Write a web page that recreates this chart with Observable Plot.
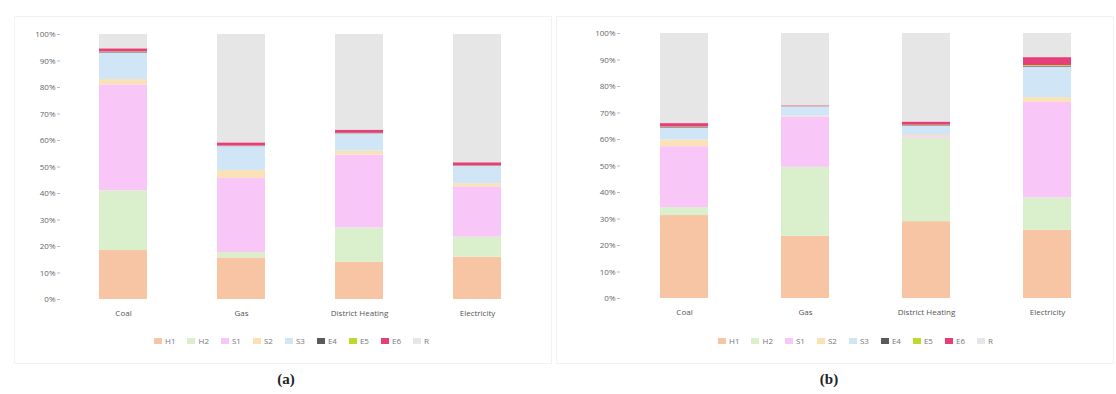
<!DOCTYPE html>
<html>
<head>
<meta charset="utf-8">
<script src="https://cdn.jsdelivr.net/npm/d3@7"></script>
<script src="https://cdn.jsdelivr.net/npm/@observablehq/plot@0.6"></script>
<style>
  html, body { margin: 0; padding: 0; background: #fff; }
  body { width: 1116px; height: 394px; position: relative; overflow: hidden; font-family: "Open Sans", sans-serif; }
  .panel { position: absolute; top: 16px; height: 348px; border: 1px solid #f2f2f2; box-sizing: border-box; }
  .chart { position: absolute; top: 20px; }
  .legend { position: absolute; top: 335px; display: flex; gap: 12px; font: 8px "Open Sans", sans-serif; color: #777; align-items: center; white-space: nowrap; }
  .legend span.item { display: inline-flex; align-items: center; gap: 3px; }
  .legend i { display: inline-block; width: 8px; height: 6px; }
  .cap { position: absolute; top: 371px; font: bold 15px "Liberation Serif", serif; color: #222; transform: translateX(-50%); }
</style>
</head>
<body>
<div class="panel" style="left:14px;width:538px"></div>
<div class="panel" style="left:556px;width:558px"></div>
<div id="chartA" class="chart" style="left:15px"></div>
<div id="chartB" class="chart" style="left:560px"></div>
<div id="legendA" class="legend" style="left:154px"></div>
<div id="legendB" class="legend" style="left:718px"></div>
<div class="cap" style="left:286px">(a)</div>
<div class="cap" style="left:829px">(b)</div>
<script>
// Energy carriers on the x axis
const categories = ["Coal", "Gas", "District Heating", "Electricity"];
// Stack components, bottom to top
const series = ["H1", "H2", "S1", "S2", "S3", "E4", "E5", "E6", "R"];
const colors = ["#f8c5a4", "#daf0cc", "#f9c6f8", "#fae1b8", "#d0e6f6", "#5a5a5a", "#bcd92c", "#e63e79", "#e6e6e6"];
const yTicks = [0, 10, 20, 30, 40, 50, 60, 70, 80, 90, 100];

// Panel (a): share (%) of each component per carrier
const aH1 = [18.5, 15.7, 14.0, 16.0];
const aH2 = [22.5, 2.0, 13.0, 7.5];
const aS1 = [40.0, 28.0, 27.5, 19.0];
const aS2 = [2.0, 3.0, 1.5, 1.2];
const aS3 = [10.0, 9.0, 6.5, 6.5];
const aE4 = [0.2, 0.1, 0.1, 0.1];
const aE5 = [0.2, 0.1, 0.1, 0.1];
const aE6 = [1.2, 1.2, 1.2, 1.2];
const aR  = [5.4, 40.9, 36.1, 48.4];

// Panel (b): share (%) of each component per carrier
const bH1 = [31.3, 23.5, 29.0, 25.7];
const bH2 = [3.0, 26.0, 31.5, 12.3];
const bS1 = [23.0, 19.0, 0.5, 36.0];
const bS2 = [2.5, 0.3, 0.5, 1.8];
const bS3 = [4.5, 3.5, 3.5, 11.5];
const bE4 = [0.2, 0.05, 0.2, 0.3];
const bE5 = [0.2, 0.05, 0.2, 0.3];
const bE6 = [1.3, 0.3, 1.2, 3.0];
const bR  = [34.0, 27.3, 33.4, 9.1];

function table(cols) {
  const rows = [];
  series.forEach((s, si) => {
    categories.forEach((c, ci) => rows.push({carrier: c, component: s, value: cols[si][ci]}));
  });
  return rows;
}

const dataA = table([aH1, aH2, aS1, aS2, aS3, aE4, aE5, aE6, aR]);
const dataB = table([bH1, bH2, bS1, bS2, bS3, bE4, bE5, bE6, bR]);

function chart(data, opts) {
  return Plot.plot({
    width: opts.width,
    height: 305,
    marginTop: opts.marginTop,
    marginBottom: opts.marginBottom,
    marginLeft: opts.marginLeft,
    marginRight: opts.marginRight,
    style: {fontFamily: "Open Sans, sans-serif", fontSize: "8px", color: "#555", background: "transparent"},
    x: {domain: categories, paddingInner: opts.padIn, paddingOuter: opts.padOut, label: null},
    y: {domain: [0, 100], label: null},
    color: {domain: series, range: colors},
    marks: [
      Plot.barY(data, {x: "carrier", y: "value", fill: "component", order: series, inset: 0}),
      Plot.axisY({ticks: yTicks, tickFormat: d => d + "%", tickSize: 3, tickPadding: 2, stroke: "#bbb", fill: "#666", label: null}),
      Plot.axisX({tickSize: 0, tickPadding: 11, fill: "#555", label: null})
    ]
  });
}

document.getElementById("chartA").append(chart(dataA, {width: 535, marginTop: 14, marginBottom: 26, marginLeft: 45, marginRight: 10, padIn: 0.59, padOut: 0.312}));
document.getElementById("chartB").append(chart(dataB, {width: 556, marginTop: 13, marginBottom: 27, marginLeft: 60, marginRight: 4, padIn: 0.6, padOut: 0.317}));

for (const id of ["legendA", "legendB"]) {
  const el = document.getElementById(id);
  series.forEach((s, i) => {
    const item = document.createElement("span");
    item.className = "item";
    const sw = document.createElement("i");
    sw.style.background = colors[i];
    item.append(sw, document.createTextNode(s));
    el.append(item);
  });
}
</script>
</body>
</html>
